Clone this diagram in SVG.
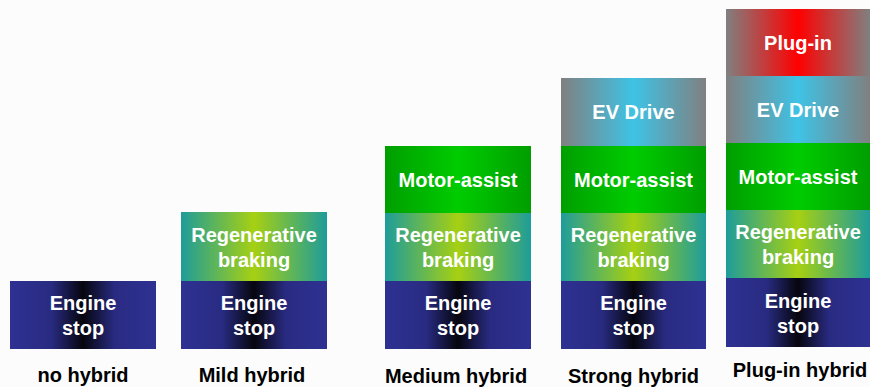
<svg xmlns="http://www.w3.org/2000/svg" width="870" height="387" viewBox="0 0 870 387">
<defs>
<linearGradient id="gEngine" x1="0" y1="0" x2="1" y2="0">
<stop offset="0" stop-color="#2E3192"/>
<stop offset="0.28" stop-color="#292B82"/>
<stop offset="0.5" stop-color="#06060F"/>
<stop offset="0.72" stop-color="#292B82"/>
<stop offset="1" stop-color="#2E3192"/>
</linearGradient>
<linearGradient id="gRegen" x1="0" y1="0" x2="1" y2="0">
<stop offset="0" stop-color="#1E9C9A"/>
<stop offset="0.5" stop-color="#A6D012"/>
<stop offset="1" stop-color="#1E9C9A"/>
</linearGradient>
<linearGradient id="gMotor" x1="0" y1="0" x2="1" y2="0">
<stop offset="0" stop-color="#009E00"/>
<stop offset="0.5" stop-color="#00CC00"/>
<stop offset="1" stop-color="#009E00"/>
</linearGradient>
<linearGradient id="gEV" x1="0" y1="0" x2="1" y2="0">
<stop offset="0" stop-color="#808080"/>
<stop offset="0.5" stop-color="#3EC3E6"/>
<stop offset="1" stop-color="#808080"/>
</linearGradient>
<linearGradient id="gPlug" x1="0" y1="0" x2="1" y2="0">
<stop offset="0" stop-color="#808080"/>
<stop offset="0.5" stop-color="#FF0000"/>
<stop offset="1" stop-color="#808080"/>
</linearGradient>
</defs>
<style>
.t{font-family:"Liberation Sans",Arial,sans-serif;font-weight:bold;font-size:20px;fill:#FFFFFF;text-anchor:middle}
.l{font-family:"Liberation Sans",Arial,sans-serif;font-weight:bold;font-size:20px;fill:#000000;text-anchor:middle}
.engine{fill:url(#gEngine)}
.regen{fill:url(#gRegen)}
.motor{fill:url(#gMotor)}
.ev{fill:url(#gEV)}
.plug{fill:url(#gPlug)}
</style>
<rect x="0" y="0" width="870" height="387" fill="#FBFCFB"/>

<!-- Column 1: no hybrid -->
<g id="no-hybrid">
<g id="c1-engine"><rect class="engine" x="10" y="281" width="146" height="68"/><text class="t" x="83" y="310">Engine</text><text class="t" x="83" y="335">stop</text></g>
<text class="l" x="83" y="382">no hybrid</text>
</g>

<!-- Column 2: Mild hybrid -->
<g id="mild-hybrid">
<g id="c2-regen"><rect class="regen" x="181" y="212" width="146" height="69"/><text class="t" x="254" y="241.5">Regenerative</text><text class="t" x="254" y="266.5">braking</text></g>
<g id="c2-engine"><rect class="engine" x="181" y="281" width="146" height="68"/><text class="t" x="254" y="310">Engine</text><text class="t" x="254" y="335">stop</text></g>
<text class="l" x="252" y="382">Mild hybrid</text>
</g>

<!-- Column 3: Medium hybrid -->
<g id="medium-hybrid">
<g id="c3-motor"><rect class="motor" x="385" y="146" width="146" height="67"/><text class="t" x="458" y="186.5">Motor-assist</text></g>
<g id="c3-regen"><rect class="regen" x="385" y="213" width="146" height="68"/><text class="t" x="458" y="242">Regenerative</text><text class="t" x="458" y="267">braking</text></g>
<g id="c3-engine"><rect class="engine" x="385" y="281" width="146" height="68"/><text class="t" x="458" y="310">Engine</text><text class="t" x="458" y="335">stop</text></g>
<text class="l" x="456" y="383">Medium hybrid</text>
</g>

<!-- Column 4: Strong hybrid -->
<g id="strong-hybrid">
<g id="c4-ev"><rect class="ev" x="561" y="78" width="145" height="68"/><text class="t" x="633.5" y="118.5">EV Drive</text></g>
<g id="c4-motor"><rect class="motor" x="561" y="146" width="145" height="67"/><text class="t" x="633.5" y="186.5">Motor-assist</text></g>
<g id="c4-regen"><rect class="regen" x="561" y="213" width="145" height="68"/><text class="t" x="633.5" y="242">Regenerative</text><text class="t" x="633.5" y="267">braking</text></g>
<g id="c4-engine"><rect class="engine" x="561" y="281" width="145" height="68"/><text class="t" x="633.5" y="310">Engine</text><text class="t" x="633.5" y="335">stop</text></g>
<text class="l" x="633.5" y="383">Strong hybrid</text>
</g>

<!-- Column 5: Plug-in hybrid -->
<g id="plugin-hybrid">
<g id="c5-plug"><rect class="plug" x="726" y="9" width="144" height="67"/><text class="t" x="798" y="49.5">Plug-in</text></g>
<g id="c5-ev"><rect class="ev" x="726" y="76" width="144" height="67"/><text class="t" x="798" y="116.5">EV Drive</text></g>
<g id="c5-motor"><rect class="motor" x="726" y="143" width="144" height="67"/><text class="t" x="798" y="183.5">Motor-assist</text></g>
<g id="c5-regen"><rect class="regen" x="726" y="210" width="144" height="68"/><text class="t" x="798" y="239">Regenerative</text><text class="t" x="798" y="264">braking</text></g>
<g id="c5-engine"><rect class="engine" x="726" y="278" width="144" height="69"/><text class="t" x="798" y="307.5">Engine</text><text class="t" x="798" y="332.5">stop</text></g>
<text class="l" x="800" y="377">Plug-in hybrid</text>
</g>

<g id="connectors"/>
</svg>
